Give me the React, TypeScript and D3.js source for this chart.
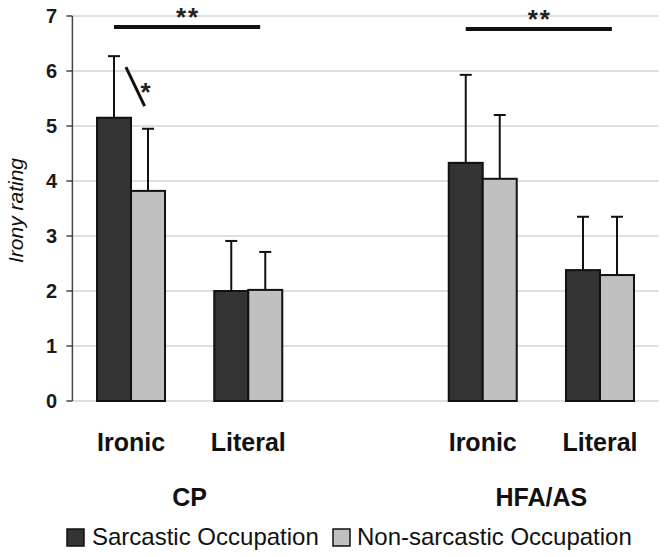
import React from "react";
import * as d3 from "d3";

const groups = ["CP", "HFA/AS"];
const conditions = ["Ironic", "Literal"];
const categories = ["CP|Ironic", "CP|Literal", "gap", "HFA/AS|Ironic", "HFA/AS|Literal"];
const seriesNames = ["Sarcastic Occupation", "Non-sarcastic Occupation"];
// means per category (CP Ironic, CP Literal, HFA Ironic, HFA Literal)
const sarcasticMeans = [5.15, 2.0, 4.33, 2.38];
const sarcasticSD = [1.12, 0.91, 1.6, 0.97];
const nonSarcasticMeans = [3.82, 2.02, 4.04, 2.29];
const nonSarcasticSD = [1.13, 0.69, 1.16, 1.06];
const yTicks = [0, 1, 2, 3, 4, 5, 6, 7];
const sigLabel = "**";
const pairLabel = "*";
const pairLine = [6.07, 5.36];

const W = 664;
const H = 557;
const FONT = "'Liberation Sans', Arial, sans-serif";

export default function App() {
  const plotLeft = 72.4;
  const plotRight = 658.6;
  const y = d3.scaleLinear().domain([0, 7]).range([401, 16]);
  const x = d3.scaleBand<string>().domain(categories).range([plotLeft, plotRight]).paddingInner(0).paddingOuter(0);
  const groupW = x.bandwidth() * 0.58;
  const sub = d3.scaleBand<string>().domain(seriesNames).range([0, groupW]);
  const fills = ["#333333", "#c0c0c0"];

  const cats: { key: string; group: string; cond: string; i: number }[] = [];
  groups.forEach((g) =>
    conditions.forEach((c) => cats.push({ key: `${g}|${c}`, group: g, cond: c, i: cats.length }))
  );
  const center = (k: string) => (x(k) as number) + x.bandwidth() / 2;
  const barX = (k: string, s: string) => center(k) - groupW / 2 + (sub(s) as number);
  const series = [
    { name: seriesNames[0], means: sarcasticMeans, sd: sarcasticSD },
    { name: seriesNames[1], means: nonSarcasticMeans, sd: nonSarcasticSD },
  ];
  const bw = sub.bandwidth();

  return (
    <svg width={W} height={H} style={{ position: "absolute", left: 0, top: 0, background: "#fff" }}>
      {/* gridlines */}
      {yTicks.map((t) => (
        <line key={`g${t}`} x1={plotLeft} x2={plotRight} y1={y(t)} y2={y(t)} stroke="#d4d4d4" strokeWidth={1.5} />
      ))}
      {/* axis */}
      <line x1={plotLeft} x2={plotLeft} y1={y(7)} y2={y(0)} stroke="#444" strokeWidth={1.5} />
      {yTicks.map((t) => (
        <g key={`t${t}`}>
          <line x1={plotLeft - 6} x2={plotLeft} y1={y(t)} y2={y(t)} stroke="#444" strokeWidth={1.5} />
          <text x={57} y={y(t) + 7} textAnchor="end" fontFamily={FONT} fontWeight="bold" fontSize={20} fill="#1a1a1a">
            {t}
          </text>
        </g>
      ))}
      <text
        transform={`translate(23,${(y(0) + y(7)) / 2 + 2}) rotate(-90)`}
        textAnchor="middle"
        fontFamily={FONT}
        fontStyle="italic"
        fontSize={21}
        fill="#111"
      >
        Irony rating
      </text>
      {/* bars */}
      {series.map((s, si) =>
        cats.map((c) => {
          const bx = barX(c.key, s.name);
          const m = s.means[c.i];
          const e = m + s.sd[c.i];
          const cx = bx + bw / 2;
          return (
            <g key={`${si}-${c.key}`}>
              <line x1={cx} x2={cx} y1={y(m)} y2={y(e)} stroke="#111" strokeWidth={2} />
              <line x1={cx - 6} x2={cx + 6} y1={y(e)} y2={y(e)} stroke="#111" strokeWidth={2} />
              <rect x={bx} y={y(m)} width={bw} height={y(0) - y(m)} fill={fills[si]} stroke="#111" strokeWidth={2} />
            </g>
          );
        })
      )}
      {/* significance */}
      {groups.map((g, gi) => {
        const x1 = barX(`${g}|Ironic`, seriesNames[0]) + bw / 2;
        const x2 = center(`${g}|Literal`) + bw * 0.35;
        const ly = gi === 0 ? 27 : 29;
        return (
          <g key={`sig${g}`}>
            <line x1={x1} x2={x2} y1={ly} y2={ly} stroke="#111" strokeWidth={4} />
            <text x={(x1 + x2) / 2 + 1} y={ly - 1} textAnchor="middle" fontFamily={FONT} fontWeight="bold" fontSize={26} letterSpacing={2} fill="#222">
              {sigLabel}
            </text>
          </g>
        );
      })}
      {(() => {
        const k = "CP|Ironic";
        const xa = barX(k, seriesNames[0]) + bw * 0.85;
        const xb = barX(k, seriesNames[1]) + bw * 0.4;
        return (
          <g>
            <line x1={xa} x2={xb} y1={y(pairLine[0])} y2={y(pairLine[1])} stroke="#111" strokeWidth={3} />
            <text x={xb + 1} y={y(pairLine[1]) - 5} textAnchor="middle" fontFamily={FONT} fontWeight="bold" fontSize={26} fill="#222">
              {pairLabel}
            </text>
          </g>
        );
      })()}
      {/* category labels */}
      {cats.map((c) => (
        <text key={`l${c.key}`} x={center(c.key)} y={451} textAnchor="middle" fontFamily={FONT} fontWeight="bold" fontSize={25} fill="#111">
          {c.cond}
        </text>
      ))}
      {groups.map((g) => {
        const gx = (center(`${g}|Ironic`) + center(`${g}|Literal`)) / 2;
        return (
          <text key={`gl${g}`} x={gx} y={506} textAnchor="middle" fontFamily={FONT} fontWeight="bold" fontSize={25} fill="#111">
            {g}
          </text>
        );
      })}
      {/* legend */}
      {(() => {
        const items = [
          { x: 67, tx: 92 },
          { x: 333, tx: 357 },
        ];
        return seriesNames.map((n, i) => (
          <g key={`lg${i}`}>
            <rect x={items[i].x} y={529} width={17} height={17} fill={fills[i]} stroke="#111" strokeWidth={1.5} />
            <text x={items[i].tx} y={545} fontFamily={FONT} fontSize={24} fill="#111">
              {n}
            </text>
          </g>
        ));
      })()}
    </svg>
  );
}
